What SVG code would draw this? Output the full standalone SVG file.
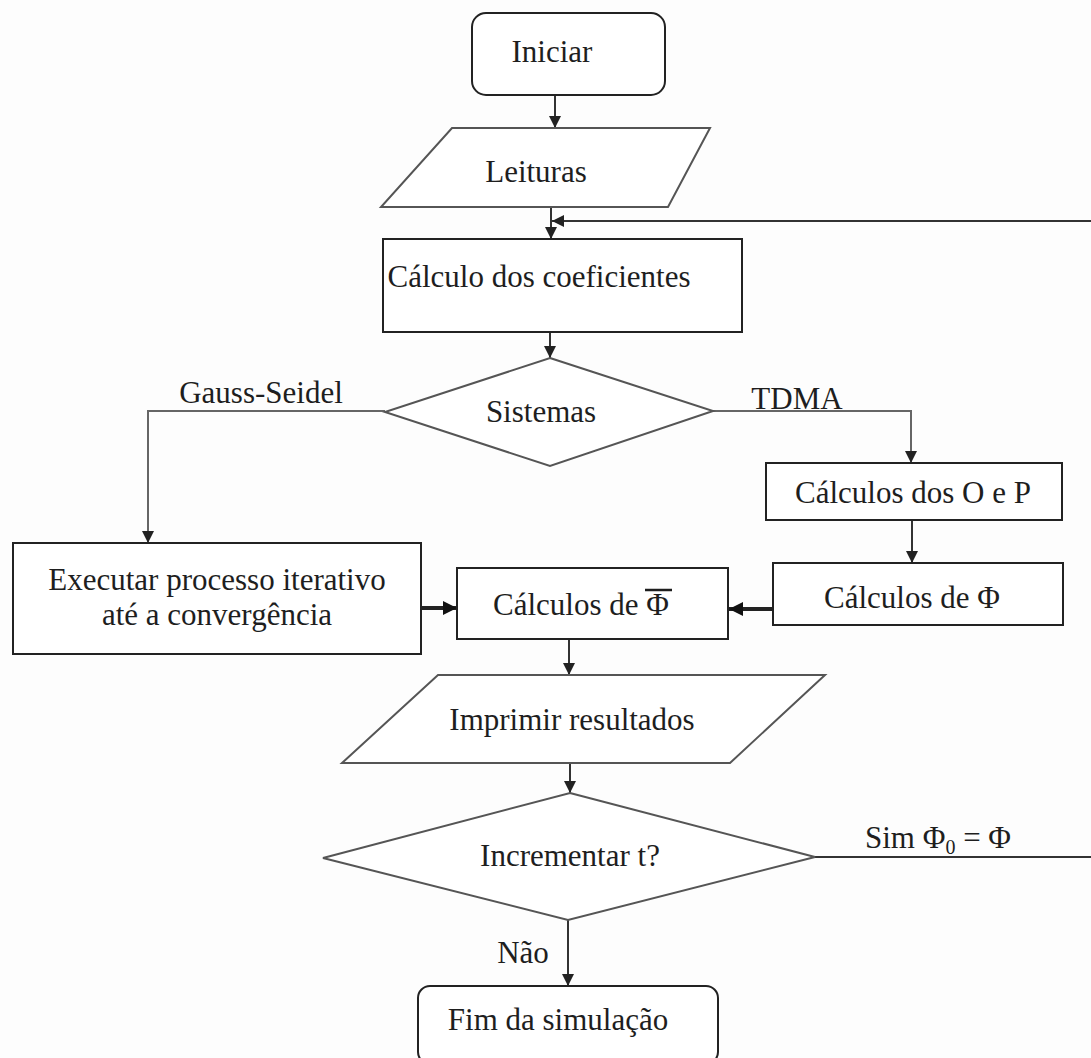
<svg xmlns="http://www.w3.org/2000/svg" width="1091" height="1058" viewBox="0 0 1091 1058">
<defs>
<style>
.box{fill:#fff;stroke:#222;stroke-width:2}
.dia{fill:#fff;stroke:#555;stroke-width:2}
.t{font-family:"Liberation Serif","Times New Roman",serif;font-size:31px;fill:#1e1e1e;text-anchor:middle}
.ts{text-anchor:start}
.c{fill:none;stroke:#333;stroke-width:2}
.ck{fill:none;stroke:#222;stroke-width:4}
.cg{fill:none;stroke:#666;stroke-width:2}
</style>
<marker id="ah" viewBox="0 0 12 12" refX="12" refY="6" markerWidth="12" markerHeight="12" markerUnits="userSpaceOnUse" orient="auto">
<path d="M0,0 L12,6 L0,12 Z" fill="#222"/>
</marker>
<marker id="ahk" viewBox="0 0 12 12" refX="12" refY="6" markerWidth="14" markerHeight="14" markerUnits="userSpaceOnUse" orient="auto">
<path d="M0,0 L12,6 L0,12 Z" fill="#111"/>
</marker>
</defs>
<rect width="1091" height="1058" fill="#fdfdfd"/>
<g id="connectors">
<path class="c" d="M555,95 V128" marker-end="url(#ah)"/>
<path class="c" d="M551,207 V239" marker-end="url(#ah)"/>
<path class="c" d="M815,857 H1100 V221 H552" marker-end="url(#ah)"/>
<path class="c" d="M550,332 V358" marker-end="url(#ah)"/>
<path class="cg" d="M385,411 H148 V543" marker-end="url(#ah)"/>
<path class="cg" d="M713,411 H911 V463" marker-end="url(#ah)"/>
<path class="c" d="M912,520 V563" marker-end="url(#ah)"/>
<path class="ck" d="M773,609 H729" marker-end="url(#ahk)"/>
<path class="ck" d="M421,608 H457" marker-end="url(#ahk)"/>
<path class="c" d="M569,639 V675" marker-end="url(#ah)"/>
<path class="c" d="M570,763 V793" marker-end="url(#ah)"/>
<path class="c" d="M568,920 V986" marker-end="url(#ah)"/>
<text class="t" x="261" y="403">Gauss-Seidel</text>
<text class="t" x="797" y="409" fill="#2a2238">TDMA</text>
<text class="t ts" x="865" y="848">Sim Φ<tspan font-size="20" dy="6">0</tspan><tspan dy="-6"> = Φ</tspan></text>
<text class="t" x="523" y="963">Não</text>
</g>
<g id="n-iniciar">
<rect class="box" x="472" y="13" width="193" height="82" rx="14"/>
<text class="t" x="552" y="62">Iniciar</text>
</g>
<g id="n-leituras">
<polygon class="dia" points="452,128 710,128 668,207 381,207"/>
<text class="t" x="536" y="182">Leituras</text>
</g>
<g id="n-coef">
<rect class="box" x="383" y="239" width="359" height="93"/>
<text class="t" x="539" y="287">Cálculo dos coeficientes</text>
</g>
<g id="n-sistemas">
<polygon class="dia" points="550,358 713,411 550,466 385,412"/>
<text class="t" x="541" y="422">Sistemas</text>
</g>
<g id="n-op">
<rect class="box" x="766" y="463" width="296" height="57"/>
<text class="t" x="913" y="503">Cálculos dos O e P</text>
</g>
<g id="n-executar">
<rect class="box" x="13" y="543" width="408" height="111"/>
<text class="t" x="217" y="590">Executar processo iterativo</text>
<text class="t" x="217" y="625">até a convergência</text>
</g>
<g id="n-phibar">
<rect class="box" x="457" y="568" width="271" height="71"/>
<text class="t ts" x="493" y="615">Cálculos de Φ</text>
<line x1="645" y1="590" x2="672" y2="590" stroke="#1e1e1e" stroke-width="2.5"/>
</g>
<g id="n-phi">
<rect class="box" x="773" y="563" width="290" height="62"/>
<text class="t" x="912" y="608">Cálculos de Φ</text>
</g>
<g id="n-imprimir">
<polygon class="dia" points="438,675 825,675 730,763 342,763"/>
<text class="t" x="572" y="730">Imprimir resultados</text>
</g>
<g id="n-incrementar">
<polygon class="dia" points="570,793 815,857 568,920 323,858"/>
<text class="t" x="570" y="866">Incrementar t?</text>
</g>
<g id="n-fim">
<rect class="box" x="418" y="986" width="300" height="78" rx="12"/>
<text class="t" x="558" y="1030">Fim da simulação</text>
</g>
</svg>
